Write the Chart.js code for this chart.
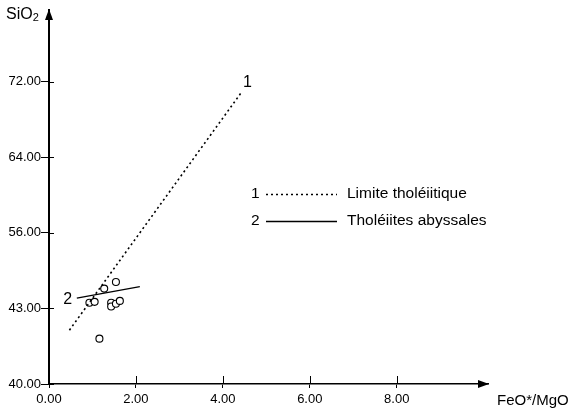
<!DOCTYPE html>
<html>
<head>
<meta charset="utf-8">
<script src="https://cdn.jsdelivr.net/npm/chart.js@4"></script>
<style>
  html, body { margin: 0; padding: 0; background: #fff; }
  #wrap { width: 577px; height: 413px; position: relative; }
</style>
</head>
<body>
<div id="wrap"><canvas id="chart"></canvas></div>
<script>
// samples (FeO*/MgO vs SiO2)
const sampleRatio = [0.93, 1.05, 1.27, 1.54, 1.43, 1.43, 1.54, 1.63, 1.16];
const sampleSiO2 = [48.6, 48.7, 50.1, 50.8, 48.6, 48.2, 48.5, 48.8, 44.8];

// 1 - limite tholeiitique
const limitRatio = [0.47, 4.43];
const limitSiO2 = [45.7, 70.9];

// 2 - tholeiites abyssales
const abyssRatio = [0.64, 2.09];
const abyssSiO2 = [49.1, 50.3];

const xTickValues = [0, 2, 4, 6, 8];
const xTickLabels = ['0.00', '2.00', '4.00', '6.00', '8.00'];
const yTickValues = [40, 48, 56, 64, 72];
const yTickLabels = ['40.00', '43.00', '56.00', '64.00', '72.00'];

const legendItems = [
    { num: '1', text: 'Limite tholéiitique', dash: [2, 3] },
    { num: '2', text: 'Tholéiites abyssales', dash: [] }
];

const FONT = '"Liberation Sans", Arial, Helvetica, sans-serif';
const INK = '#000';

const toPoints = (xs, ys) => xs.map((x, i) => ({ x: x, y: ys[i] }));

const decorPlugin = {
    id: 'decor',
    afterDraw(chart) {
        const ctx = chart.ctx;
        const xs = chart.scales.x;
        const ys = chart.scales.y;
        const area = chart.chartArea;
        ctx.save();
        ctx.strokeStyle = INK;
        ctx.fillStyle = INK;
        ctx.lineWidth = 1;

        // inner halves of tick marks
        xTickValues.forEach(v => {
            const px = Math.round(xs.getPixelForValue(v)) + 0.5;
            ctx.beginPath();
            ctx.moveTo(px, area.bottom - 8);
            ctx.lineTo(px, area.bottom);
            ctx.stroke();
        });
        yTickValues.forEach(v => {
            const py = Math.round(ys.getPixelForValue(v)) + 0.5;
            ctx.beginPath();
            ctx.moveTo(area.left, py);
            ctx.lineTo(area.left + 5, py);
            ctx.stroke();
        });

        // arrow heads
        ctx.beginPath();
        ctx.moveTo(area.left, area.top - 1);
        ctx.lineTo(area.left - 4, area.top + 10);
        ctx.lineTo(area.left + 4, area.top + 10);
        ctx.closePath();
        ctx.fill();
        ctx.beginPath();
        ctx.moveTo(area.right + 1, area.bottom);
        ctx.lineTo(area.right - 10, area.bottom - 4);
        ctx.lineTo(area.right - 10, area.bottom + 4);
        ctx.closePath();
        ctx.fill();

        // axis titles
        ctx.textBaseline = 'alphabetic';
        ctx.textAlign = 'left';
        ctx.font = '16px ' + FONT;
        ctx.fillText('SiO', 6, 19);
        const w = ctx.measureText('SiO').width;
        ctx.font = '11px ' + FONT;
        ctx.fillText('2', 6 + w, 21);
        ctx.font = '15px ' + FONT;
        ctx.fillText('FeO*/MgO', 497, 405);

        // line numbers
        ctx.font = '16px ' + FONT;
        ctx.textAlign = 'center';
        ctx.textBaseline = 'middle';
        const p1x = xs.getPixelForValue(limitRatio[1]);
        const p1y = ys.getPixelForValue(limitSiO2[1]);
        ctx.fillText('1', p1x + 6, p1y - 10);
        const p2x = xs.getPixelForValue(abyssRatio[0]);
        const p2y = ys.getPixelForValue(abyssSiO2[0]);
        ctx.fillText('2', p2x - 9, p2y + 2);

        // legend
        ctx.font = '15.5px ' + FONT;
        legendItems.forEach((item, i) => {
            const y = 194 + i * 27;
            ctx.textAlign = 'left';
            ctx.fillText(item.num, 251, y);
            ctx.beginPath();
            ctx.setLineDash(item.dash);
            ctx.lineWidth = 1.3;
            ctx.moveTo(266, y + 0.5);
            ctx.lineTo(337, y + 0.5);
            ctx.stroke();
            ctx.setLineDash([]);
            ctx.fillText(item.text, 347, y);
        });
        ctx.restore();
    }
};

new Chart(document.getElementById('chart'), {
    type: 'scatter',
    data: {
        datasets: [
            {
                label: 'Limite tholéiitique',
                data: toPoints(limitRatio, limitSiO2),
                showLine: true,
                borderColor: INK,
                borderWidth: 1.6,
                borderDash: [2, 3],
                pointRadius: 0
            },
            {
                label: 'Tholéiites abyssales',
                data: toPoints(abyssRatio, abyssSiO2),
                showLine: true,
                borderColor: INK,
                borderWidth: 1.3,
                pointRadius: 0
            },
            {
                label: 'Echantillons',
                data: toPoints(sampleRatio, sampleSiO2),
                pointRadius: 3.5,
                pointBackgroundColor: '#fff',
                pointBorderColor: INK,
                pointBorderWidth: 1.1
            }
        ]
    },
    options: {
        responsive: true,
        maintainAspectRatio: false,
        animation: false,
        layout: { padding: { top: 10, right: 89, left: 0, bottom: 0 } },
        plugins: {
            legend: { display: false },
            tooltip: { enabled: false }
        },
        scales: {
            x: {
                type: 'linear',
                min: 0,
                max: 10.1,
                afterBuildTicks: (scale) => { scale.ticks = xTickValues.map(v => ({ value: v })); },
                afterFit: (scale) => { scale.height = 29; },
                ticks: {
                    color: INK,
                    font: { family: FONT, size: 13 },
                    padding: 4,
                    maxRotation: 0,
                    callback: (v) => xTickLabels[xTickValues.indexOf(v)]
                },
                grid: { drawOnChartArea: false, drawTicks: true, tickLength: 4, color: INK },
                border: { display: true, color: INK, width: 1.6 }
            },
            y: {
                type: 'linear',
                min: 40,
                max: 79.6,
                afterBuildTicks: (scale) => { scale.ticks = yTickValues.map(v => ({ value: v })); },
                afterFit: (scale) => { scale.width = 49; },
                ticks: {
                    color: INK,
                    font: { family: FONT, size: 13 },
                    padding: 0,
                    callback: (v) => yTickLabels[yTickValues.indexOf(v)]
                },
                grid: { drawOnChartArea: false, drawTicks: true, tickLength: 8, color: INK },
                border: { display: true, color: INK, width: 2 }
            }
        }
    },
    plugins: [decorPlugin]
});
</script>
</body>
</html>
